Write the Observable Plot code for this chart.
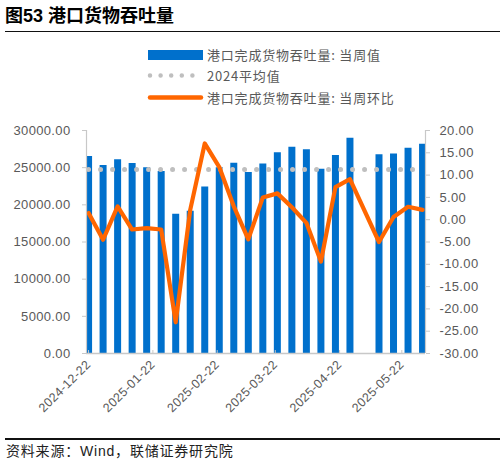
<!DOCTYPE html>
<html>
<head>
<meta charset="utf-8">
<script src="https://cdn.jsdelivr.net/npm/d3@7"></script>
<script src="https://cdn.jsdelivr.net/npm/@observablehq/plot@0.6"></script>
<style>
  body { margin: 0; background: #fff; }
  #wrap { position: relative; width: 504px; height: 464px; overflow: hidden; font-family: "Liberation Sans", Arial, "Noto Sans CJK SC", sans-serif; }
  #chart { position: absolute; left: 0; top: 0; }
  #title { position: absolute; left: 5px; top: 6px; font-size: 18px; font-weight: bold; color: #000; white-space: nowrap; line-height: 20px; }
  .hr { position: absolute; left: 5px; width: 495px; height: 1.5px; background: #111; }
  .legsym { position: absolute; left: 146px; }
  .legtxt { position: absolute; left: 207px; font-family: "Noto Sans CJK SC", sans-serif; font-size: 13px; color: #595959; white-space: nowrap; line-height: 16px; letter-spacing: 0.8px; }
  #foot { position: absolute; left: 6px; top: 442px; font-family: "Liberation Sans", Arial, "Noto Sans CJK SC", sans-serif; font-size: 14px; color: #222; white-space: nowrap; line-height: 18px; letter-spacing: 0.8px; }
</style>
</head>
<body>
<div id="wrap">
  <div id="chart"></div>
  <div id="title">图53 港口货物吞吐量</div>
  <div class="hr" style="top:30.5px"></div>
  <svg class="legsym" style="top:44px" width="60" height="62">
    <rect x="2" y="6" width="55" height="10" fill="#0070CC"></rect>
    <line x1="4" y1="31.5" x2="57" y2="31.5" stroke="#BFBFBF" stroke-width="4.5" stroke-linecap="round" stroke-dasharray="0 10.6"></line>
    <line x1="4" y1="53.5" x2="55" y2="53.5" stroke="#FF6600" stroke-width="4.5" stroke-linecap="round"></line>
  </svg>
  <div class="legtxt" style="top:47px">港口完成货物吞吐量: 当周值</div>
  <div class="legtxt" style="top:67.5px">2024平均值</div>
  <div class="legtxt" style="top:89.5px">港口完成货物吞吐量: 当周环比</div>
  <div class="hr" style="top:438px"></div>
  <div id="foot">资料来源：Wind，联储证券研究院</div>
</div>
<script>
// ---- data ----
const dates = ["2024-12-22", "2024-12-29", "2025-01-05", "2025-01-12", "2025-01-19", "2025-01-26",
  "2025-02-02", "2025-02-09", "2025-02-16", "2025-02-23", "2025-03-02", "2025-03-09",
  "2025-03-16", "2025-03-23", "2025-03-30", "2025-04-06", "2025-04-13", "2025-04-20",
  "2025-04-27", "2025-05-11", "2025-05-18", "2025-05-25", "2025-06-01"];
const throughput = [26500, 25300, 26050, 25550, 25000, 24500,
  18750, 19150, 22400, 25000, 25600, 24350,
  25500, 27000, 27750, 27400, 24800, 26650,
  28950, 26750, 26850, 27600, 28150];
const wow = [1.5, -4.5, 3.0, -2.2, -1.9, -2.2,
  -23.0, 2.2, 17.1, 11.8, 3.0, -4.4,
  5.0, 5.9, 2.8, -0.7, -9.4, 7.3,
  9.1, -5.0, 0.6, 2.9, 2.2];
const avg2024 = 24750;
const leftTicks = [0, 5000, 10000, 15000, 20000, 25000, 30000];
const rightTicks = [-30, -25, -20, -15, -10, -5, 0, 5, 10, 15, 20];
const xTickLabels = ["2024-12-22", "2025-01-22", "2025-02-22", "2025-03-22", "2025-04-22", "2025-05-22"];
const xDomain = [new Date(Date.UTC(2024, 11, 21)), new Date(Date.UTC(2025, 5, 2, 10))];
const rightDomain = [-30, 20];
const leftDomain = [0, 30000];

// map right-axis values onto the left scale
const toLeft = v => (v - rightDomain[0]) / (rightDomain[1] - rightDomain[0]) * (leftDomain[1] - leftDomain[0]) + leftDomain[0];
const fromLeft = y => (y - leftDomain[0]) / (leftDomain[1] - leftDomain[0]) * (rightDomain[1] - rightDomain[0]) + rightDomain[0];

const rows = dates.map((d, i) => ({date: new Date(d), value: throughput[i], wow: wow[i], avg: avg2024}));
const xTicks = xTickLabels.map(d => new Date(d));

const axisColor = "#C8C8C8";
const labelColor = "#595959";

const chart = Plot.plot({
  width: 504,
  height: 464,
  marginLeft: 86,
  marginRight: 79,
  marginTop: 130,
  marginBottom: 111,
  style: {fontFamily: "Liberation Sans, Arial, sans-serif", fontSize: "13px", background: "transparent", overflow: "visible"},
  x: {type: "utc", domain: xDomain},
  y: {domain: leftDomain},
  marks: [
    Plot.ruleX(rows, {x: "date", y1: 0, y2: "value", stroke: "#0070CC", strokeWidth: 7, clip: true}),
    Plot.line(rows, {x: "date", y: "avg", stroke: "#BFBFBF", strokeWidth: 5, strokeDasharray: "0 12", strokeLinecap: "round"}),
    Plot.line(rows, {x: "date", y: d => toLeft(d.wow), stroke: "#FF6600", strokeWidth: 4.2, strokeLinejoin: "round", strokeLinecap: "round"}),
    Plot.ruleY([leftDomain[0]], {stroke: axisColor, strokeWidth: 1.5}),
    Plot.ruleX([xDomain[0]], {stroke: axisColor, strokeWidth: 1.2}),
    Plot.ruleX([xDomain[1]], {stroke: axisColor, strokeWidth: 1.2}),
    Plot.ruleX(xTicks, {y1: 0, y2: 400, stroke: axisColor}),
    Plot.axisY(leftTicks, {anchor: "left", tickSize: 4, tickPadding: 12, tickFormat: d => d.toFixed(2), fill: labelColor, stroke: axisColor, fontSize: 13, label: null}),
    Plot.axisY(rightTicks.map(toLeft), {anchor: "right", tickSize: 4, tickPadding: 10, tickFormat: d => fromLeft(d).toFixed(2), fill: labelColor, stroke: axisColor, fontSize: 13, label: null}),
    Plot.axisX(xTicks, {anchor: "bottom", tickSize: 0, tickPadding: 9, tickRotate: -45, tickFormat: d3.utcFormat("%Y-%m-%d"), fill: labelColor, fontSize: 12.5, label: null})
  ]
});
chart.style.letterSpacing = "0.35px";
document.getElementById("chart").appendChild(chart);
</script>
</body>
</html>
